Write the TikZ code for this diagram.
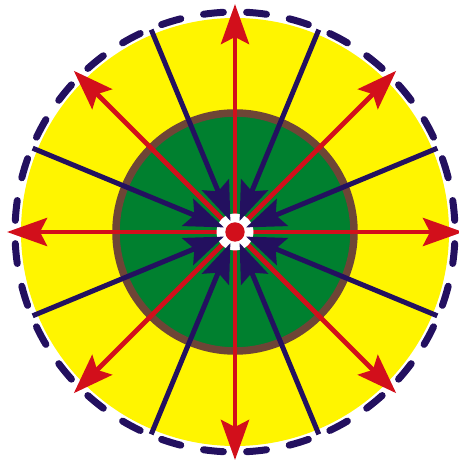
\documentclass[tikz,border=0pt]{standalone}
\usetikzlibrary{arrows.meta}
\definecolor{sunyellow}{HTML}{FFF500}
\definecolor{coregreen}{HTML}{00802F}
\definecolor{rimbrown}{HTML}{6E4536}
\definecolor{arrred}{HTML}{D20F1B}
\definecolor{navy}{HTML}{23105F}
\tikzset{
  redarrow/.style={draw=arrred, line width=4.8pt, -{Stealth[length=40pt, width=28pt, inset=7pt, fill=arrred]}},
  bluearrow/.style={draw=navy, line width=5pt, -{Stealth[length=39pt, width=29pt, inset=7pt, fill=navy]}},
  dashseg/.style={draw=navy, line width=7pt, line cap=round},
}
\begin{document}
\begin{tikzpicture}[x=1pt,y=1pt]
\useasboundingbox (-235,-230) rectangle (223,232);
\coordinate (c) at (0,0);
% outer yellow disc
\fill[sunyellow] (c) circle[radius=214];
% green core with brown rim
\filldraw[fill=coregreen, draw=rimbrown, line width=7.5pt] (c) circle[radius=119];
% dashed outer boundary
\foreach \i in {0,...,31}{
  \draw[dashseg] ({11.25*\i+3.025}:220) arc[start angle={11.25*\i+3.025}, end angle={11.25*\i+8.225}, radius=220];
}
% red outward arrows
\foreach \i in {0,...,7}{
  \coordinate (rt\i) at ({45*\i}:228);
  \draw[redarrow] (c) -- (rt\i);
}
% white hub
\fill[white] (c) circle[radius=18.5];
% blue inward arrows
\foreach \i in {0,...,7}{
  \coordinate (bs\i) at ({45*\i+22.5}:219);
  \coordinate (bt\i) at ({45*\i+22.5}:12);
  \draw[bluearrow] (bs\i) -- (bt\i);
}
% red centre dot
\fill[arrred] (c) circle[radius=9.7];
\end{tikzpicture}
\end{document}
